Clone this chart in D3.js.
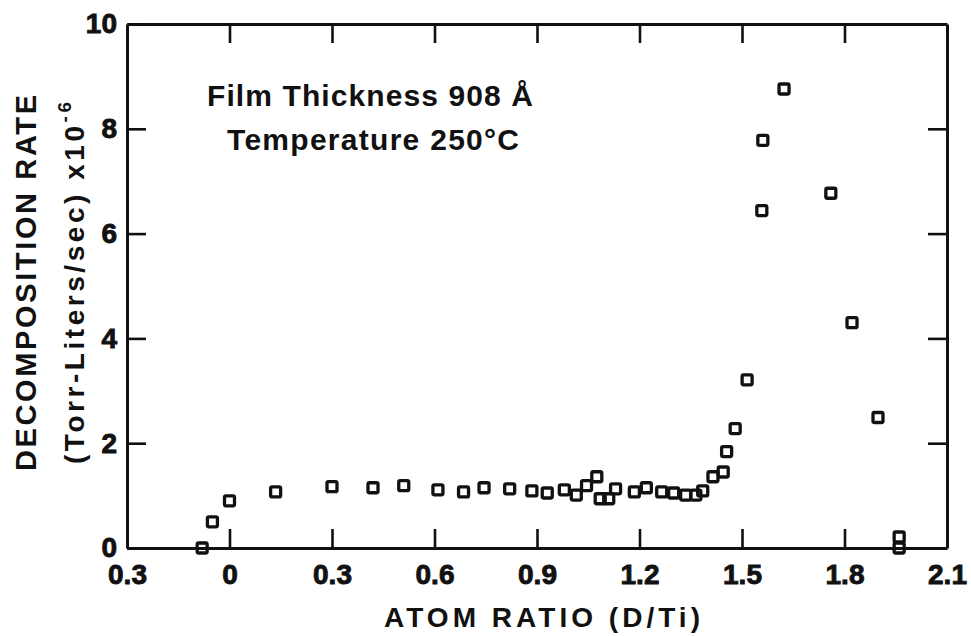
<!DOCTYPE html>
<html>
<head>
<meta charset="utf-8">
<script src="https://cdn.jsdelivr.net/npm/d3@7"></script>
<style>
  body { margin: 0; background: #fff; }
  svg { display: block; }
  text { font-family: "Liberation Sans", "DejaVu Sans", sans-serif; fill: #111; font-weight: bold; }
</style>
</head>
<body>
<svg id="chart" width="971" height="636"></svg>
<script>
// atom ratio D/Ti vs decomposition rate (x1e-6 Torr-L/s)
const atomRatio = [-0.08, -0.05, 0.0, 0.135, 0.30, 0.42, 0.51, 0.61, 0.685, 0.745,
  0.82, 0.885, 0.93, 0.98, 1.015, 1.045, 1.075, 1.085, 1.11, 1.13,
  1.185, 1.22, 1.265, 1.30, 1.335, 1.365, 1.385, 1.415, 1.445, 1.455,
  1.48, 1.515, 1.558, 1.561, 1.623, 1.76, 1.822, 1.898, 1.96, 1.96];
const decompRate = [0.0, 0.5, 0.9, 1.07, 1.17, 1.15, 1.19, 1.11, 1.07, 1.15,
  1.13, 1.09, 1.05, 1.11, 1.01, 1.19, 1.36, 0.94, 0.94, 1.13,
  1.07, 1.15, 1.07, 1.05, 1.01, 1.01, 1.09, 1.36, 1.45, 1.84,
  2.28, 3.21, 6.44, 7.78, 8.76, 6.77, 4.30, 2.49, 0.21, 0.0];

const xTicks = [-0.3, 0, 0.3, 0.6, 0.9, 1.2, 1.5, 1.8, 2.1];
const xTickLabels = ["0.3", "0", "0.3", "0.6", "0.9", "1.2", "1.5", "1.8", "2.1"];
const yTicks = [0, 2, 4, 6, 8, 10];

const svg = d3.select('#chart');
const pL = 127, pR = 947, pT = 24, pB = 548;

const x = d3.scaleLinear().domain([-0.3, 2.1]).range([pL, pR]);
const y = d3.scaleLinear().domain([0, 10]).range([pB, pT]);

const tickLen = 19;
const styleAxis = (g) => {
  g.select('.domain').attr('stroke', '#111').attr('stroke-width', 3);
  g.selectAll('.tick line').attr('stroke', '#111').attr('stroke-width', 2.6);
  g.selectAll('.tick text').attr('font-size', 28).attr('fill', '#111')
    .attr('font-family', '"Liberation Sans", sans-serif').attr('font-weight', 'normal')
    .style('paint-order', 'stroke').attr('stroke', '#111').attr('stroke-width', 0.9);
};

// bottom
svg.append('g')
  .attr('transform', `translate(0,${pB})`)
  .call(d3.axisBottom(x).tickValues(xTicks)
    .tickFormat((d, i) => xTickLabels[i])
    .tickSizeInner(-tickLen).tickSizeOuter(0).tickPadding(16))
  .call(styleAxis);
// top
svg.append('g')
  .attr('transform', `translate(0,${pT})`)
  .call(d3.axisTop(x).tickValues(xTicks.slice(1, -1))
    .tickFormat('').tickSizeInner(-tickLen).tickSizeOuter(0))
  .call(styleAxis);
// left
svg.append('g')
  .attr('transform', `translate(${pL},0)`)
  .call(d3.axisLeft(y).tickValues(yTicks)
    .tickFormat(d3.format('d'))
    .tickSizeInner(-tickLen).tickSizeOuter(0).tickPadding(10))
  .call(styleAxis);
// right
svg.append('g')
  .attr('transform', `translate(${pR},0)`)
  .call(d3.axisRight(y).tickValues(yTicks.slice(1, -1))
    .tickFormat('').tickSizeInner(-tickLen).tickSizeOuter(0))
  .call(styleAxis);

// markers
const pts = atomRatio.map((v, i) => [v, decompRate[i]]);
const sz = 10;
svg.append('g')
  .selectAll('rect')
  .data(pts)
  .join('rect')
  .attr('x', d => x(d[0]) - sz / 2)
  .attr('y', d => y(d[1]) - sz / 2)
  .attr('width', sz)
  .attr('height', sz)
  .attr('rx', 1.5)
  .attr('fill', 'none')
  .attr('stroke', '#111')
  .attr('stroke-width', 3.3);

// annotation
svg.append('text')
  .attr('x', 207).attr('y', 106)
  .attr('font-size', 30)
  .attr('textLength', 326).attr('lengthAdjust', 'spacing')
  .text('Film Thickness 908 Å');
svg.append('text')
  .attr('x', 227).attr('y', 150)
  .attr('font-size', 30)
  .attr('textLength', 292).attr('lengthAdjust', 'spacing')
  .text('Temperature 250°C');

// x label
svg.append('text')
  .attr('x', 542).attr('y', 627)
  .attr('text-anchor', 'middle')
  .attr('font-size', 28)
  .attr('textLength', 316).attr('lengthAdjust', 'spacing')
  .text('ATOM RATIO (D/Ti)');

// y label, two lines
const yl = svg.append('g').attr('transform', 'translate(0,283) rotate(-90)');
yl.append('text')
  .attr('x', 0).attr('y', 36)
  .attr('text-anchor', 'middle')
  .attr('font-size', 29)
  .attr('textLength', 376).attr('lengthAdjust', 'spacing')
  .text('DECOMPOSITION RATE');
const l2 = yl.append('text')
  .attr('x', 0).attr('y', 84)
  .attr('text-anchor', 'middle')
  .attr('font-size', 28)
  .attr('textLength', 362).attr('lengthAdjust', 'spacing');
l2.append('tspan').text('(Torr-Liters/sec) x10');
l2.append('tspan').attr('dy', -13).attr('font-size', 19).text('-6');
</script>
</body>
</html>
